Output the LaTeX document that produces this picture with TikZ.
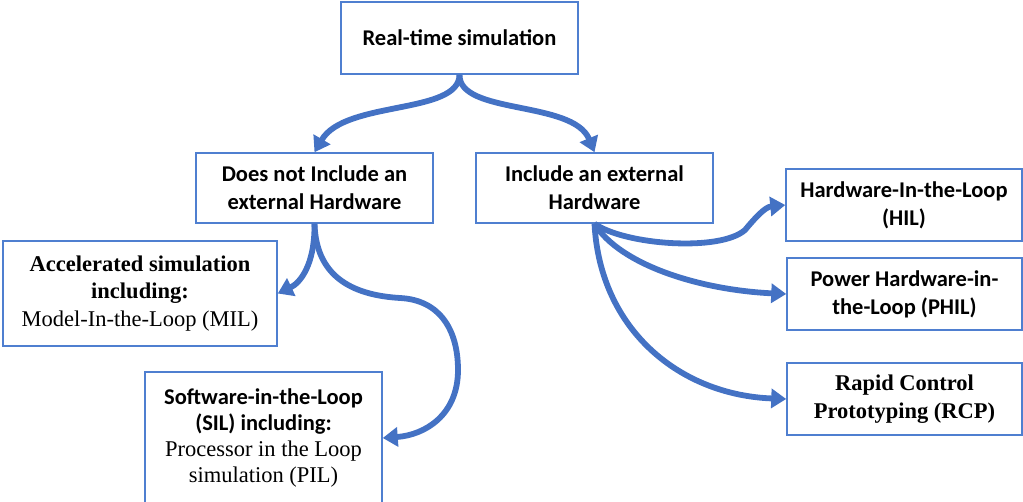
\documentclass[tikz,border=0pt]{standalone}
\usepackage{fontspec}
\setmainfont{Liberation Serif}
\newfontfamily\calibfont{Carlito}
\usetikzlibrary{arrows.meta}
\definecolor{arrblue}{HTML}{4472C4}
\definecolor{boxblue}{HTML}{4F7FD0}
\newcommand{\sbt}[1]{{\calibfont\bfseries #1}}
\begin{document}
\begin{tikzpicture}[x=0.5pt,y=-0.5pt,
  box/.style={draw=boxblue, line width=0.75pt, rectangle, align=center, inner sep=0pt,
    font=\fontsize{11.25}{14}\selectfont},
  sbox/.style={box, font=\calibfont\bfseries\fontsize{11.25}{14}\selectfont},
  conn/.style={draw=arrblue, line width=2.9pt, -{Triangle[length=7.5pt,width=9.5pt]}}]
\useasboundingbox (0,0) rectangle (1023,502);

\node[sbox, minimum width=118.5pt, minimum height=36pt] (rt) at (459.5,38) {Real-time simulation};
\node[sbox, minimum width=118.5pt, minimum height=35pt] (dni) at (314.5,188) {Does not Include an\\external Hardware};
\node[sbox, minimum width=118.5pt, minimum height=35pt] (inc) at (594.5,188) {Include an external\\Hardware};
\node[box, minimum width=137pt, minimum height=52.5pt, font=\fontsize{11.25}{13.75}\selectfont] (acc) at (140,293.5)
  {\textbf{Accelerated simulation}\\\textbf{including:}\\Model-In-the-Loop (MIL)};
\node[box, minimum width=118.5pt, minimum height=66pt, font=\fontsize{11.25}{13}\selectfont] (sil) at (263.5,438)
  {\sbt{Software-in-the-Loop}\\\sbt{(SIL) including:}\\Processor in the Loop\\simulation (PIL)};
\node[sbox, minimum width=118pt, minimum height=36pt] (hil) at (904,205) {Hardware-In-the-Loop\\(HIL)};
\node[sbox, minimum width=117.5pt, minimum height=36pt] (phil) at (904.5,294) {Power Hardware-in-\\the-Loop (PHIL)};
\node[box, minimum width=117.5pt, minimum height=36pt] (rcp) at (904.5,399) {\textbf{Rapid Control}\\\textbf{Prototyping (RCP)}};

\draw[conn] (rt.south) .. controls (459,115) and (345,100) .. (dni.north);
\draw[conn] (rt.south) .. controls (459,115) and (573,100) .. (inc.north);
\draw[conn] (dni.south) .. controls (315,265) and (300,283) .. (acc.east);
\draw[conn] (dni.south) .. controls (316,275) and (350,295) .. (400,298)
  .. controls (440,300) and (458,330) .. (458,370)
  .. controls (458,415) and (425,435) .. (sil.east);
\draw[conn] (inc.south) .. controls (625,245) and (720,252) .. (745,230)
  .. controls (755,218) and (765,207) .. (hil.west);
\draw[conn] (inc.south) .. controls (620,265) and (700,290) .. (phil.west);
\draw[conn] (inc.south) .. controls (600,330) and (680,395) .. (rcp.west);
\end{tikzpicture}
\end{document}
